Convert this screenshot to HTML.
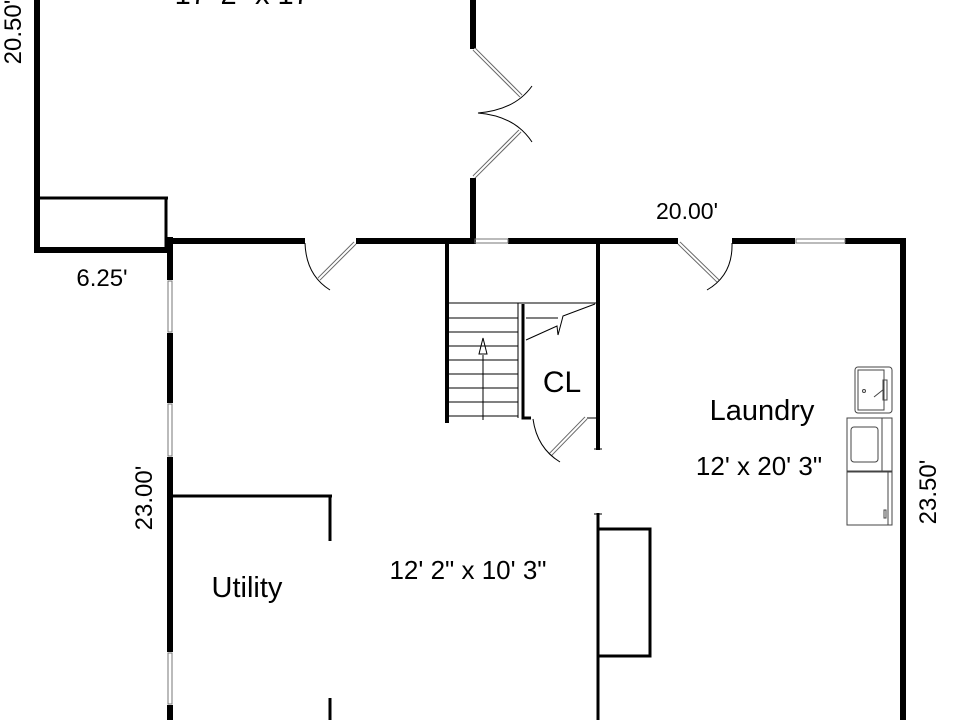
<!DOCTYPE html>
<html><head><meta charset="utf-8"><style>
html,body{margin:0;padding:0;background:#fff;width:960px;height:720px;overflow:hidden}
svg{display:block}
text{font-family:"Liberation Sans",sans-serif;fill:#000}
</style></head><body>
<svg width="960" height="720" viewBox="0 0 960 720" xmlns="http://www.w3.org/2000/svg">
<g stroke="#000" fill="none" stroke-linecap="butt">
<line x1="37" y1="0" x2="37" y2="253" stroke-width="6"/>
<line x1="35" y1="250" x2="172" y2="250" stroke-width="6"/>
<line x1="37" y1="198" x2="168" y2="198" stroke-width="3"/>
<line x1="166" y1="197" x2="166" y2="248" stroke-width="3"/>
<line x1="473" y1="0" x2="473" y2="49" stroke-width="6"/>
<line x1="473" y1="178" x2="473" y2="244" stroke-width="6"/>
<line x1="474" y1="49" x2="521" y2="96" stroke-width="4" stroke="#666"/>
<line x1="474" y1="49" x2="521" y2="96" stroke-width="2" stroke="#fff"/>
<line x1="474" y1="177" x2="520" y2="131" stroke-width="4" stroke="#666"/>
<line x1="474" y1="177" x2="520" y2="131" stroke-width="2" stroke="#fff"/>
<path d="M532 86 Q515 110 478 113 Q515 116 532 142" stroke-width="1"/>
<line x1="165" y1="241" x2="305" y2="241" stroke-width="6"/>
<line x1="356" y1="241" x2="470" y2="241" stroke-width="6"/>
<line x1="508" y1="241" x2="678" y2="241" stroke-width="6"/>
<line x1="732" y1="241" x2="795" y2="241" stroke-width="6"/>
<line x1="845" y1="241" x2="906" y2="241" stroke-width="6"/>
<line x1="903" y1="238" x2="903" y2="720" stroke-width="6"/>
<rect x="475" y="239" width="33" height="4" stroke="#777" stroke-width="1"/>
<rect x="796" y="239" width="49" height="4" stroke="#777" stroke-width="1"/>
<line x1="355" y1="243" x2="319" y2="279" stroke-width="4" stroke="#666"/>
<line x1="355" y1="243" x2="319" y2="279" stroke-width="2" stroke="#fff"/>
<path d="M305 243 Q306 275 330 290" stroke-width="1"/>
<line x1="679" y1="243" x2="718" y2="281" stroke-width="4" stroke="#666"/>
<line x1="679" y1="243" x2="718" y2="281" stroke-width="2" stroke="#fff"/>
<path d="M732 243 Q733 275 707 290" stroke-width="1"/>
<line x1="170" y1="237" x2="170" y2="280" stroke-width="6"/>
<line x1="170" y1="333" x2="170" y2="403" stroke-width="6"/>
<line x1="170" y1="457" x2="170" y2="652" stroke-width="6"/>
<line x1="170" y1="705" x2="170" y2="720" stroke-width="6"/>
<rect x="168" y="281" width="4" height="51" stroke="#777" stroke-width="1"/>
<rect x="168" y="404" width="4" height="52" stroke="#777" stroke-width="1"/>
<rect x="168" y="653" width="4" height="51" stroke="#777" stroke-width="1"/>
<line x1="172" y1="496" x2="332" y2="496" stroke-width="3"/>
<line x1="330" y1="495" x2="330" y2="541" stroke-width="3"/>
<line x1="330" y1="698" x2="330" y2="720" stroke-width="3"/>
<line x1="447" y1="241" x2="447" y2="423" stroke-width="4"/>
<line x1="598" y1="241" x2="598" y2="450" stroke-width="4"/>
<line x1="449" y1="303" x2="596" y2="303" stroke-width="1"/>
<g stroke-width="1">
<line x1="449" y1="318" x2="518" y2="318"/><line x1="449" y1="332" x2="518" y2="332"/>
<line x1="449" y1="346" x2="518" y2="346"/><line x1="449" y1="360" x2="518" y2="360"/>
<line x1="449" y1="374" x2="518" y2="374"/><line x1="449" y1="388" x2="518" y2="388"/>
<line x1="449" y1="402" x2="518" y2="402"/><line x1="449" y1="416" x2="518" y2="416"/>
<line x1="518" y1="303" x2="518" y2="418"/>
<line x1="526" y1="318" x2="558" y2="318"/>
<path d="M526 340 L557 326 L558 335 L562 320 L563 316 L595 304"/>
<line x1="483" y1="420" x2="483" y2="355"/>
<path d="M483 338 L479 354 L487 354 Z"/>
<line x1="587" y1="418" x2="598" y2="418"/>
</g>
<path d="M523 304 L523 418 L531 418" stroke-width="3"/>
<line x1="586" y1="418" x2="550" y2="455" stroke-width="4" stroke="#666"/>
<line x1="586" y1="418" x2="550" y2="455" stroke-width="2" stroke="#fff"/>
<path d="M533 419 Q537 448 560 462" stroke-width="1"/>
<line x1="594" y1="449" x2="602" y2="449" stroke-width="1"/>
<line x1="598" y1="513" x2="598" y2="720" stroke-width="3"/>
<line x1="594" y1="514" x2="602" y2="514" stroke-width="1"/>
<rect x="598" y="529" width="52" height="127" stroke-width="3"/>
<g stroke="#444" stroke-width="1">
<rect x="855" y="367" width="37" height="46" rx="3"/>
<rect x="858" y="370" width="26" height="40"/>
<rect x="883" y="380" width="4" height="20"/>
<circle cx="864" cy="391" r="1.5"/>
<line x1="874" y1="397" x2="884" y2="389"/>
<rect x="847" y="418" width="45" height="53"/>
<line x1="882" y1="418" x2="882" y2="471"/>
<rect x="851" y="427" width="27" height="35" rx="3"/>
<rect x="847" y="472" width="45" height="53"/>
<line x1="888" y1="472" x2="888" y2="525"/>
<rect x="884" y="510" width="2" height="8"/>
</g>
</g>
<text x="245" y="4" font-size="29" text-anchor="middle">17' 2" x 17'</text>
<text x="102" y="286" font-size="24" text-anchor="middle">6.25'</text>
<text x="687" y="219" font-size="23" text-anchor="middle">20.00'</text>
<text x="562" y="392" font-size="30" text-anchor="middle">CL</text>
<text x="762" y="420" font-size="29" text-anchor="middle">Laundry</text>
<text x="759" y="475" font-size="26" text-anchor="middle">12' x 20' 3"</text>
<text x="247" y="597" font-size="29" text-anchor="middle">Utility</text>
<text x="468" y="579" font-size="26" text-anchor="middle">12' 2" x 10' 3"</text>
<text transform="translate(21,32) rotate(-90)" font-size="24" text-anchor="middle">20.50'</text>
<text transform="translate(152,498) rotate(-90)" font-size="24" text-anchor="middle">23.00'</text>
<text transform="translate(936,492) rotate(-90)" font-size="24" text-anchor="middle">23.50'</text>
</svg>
</body></html>
